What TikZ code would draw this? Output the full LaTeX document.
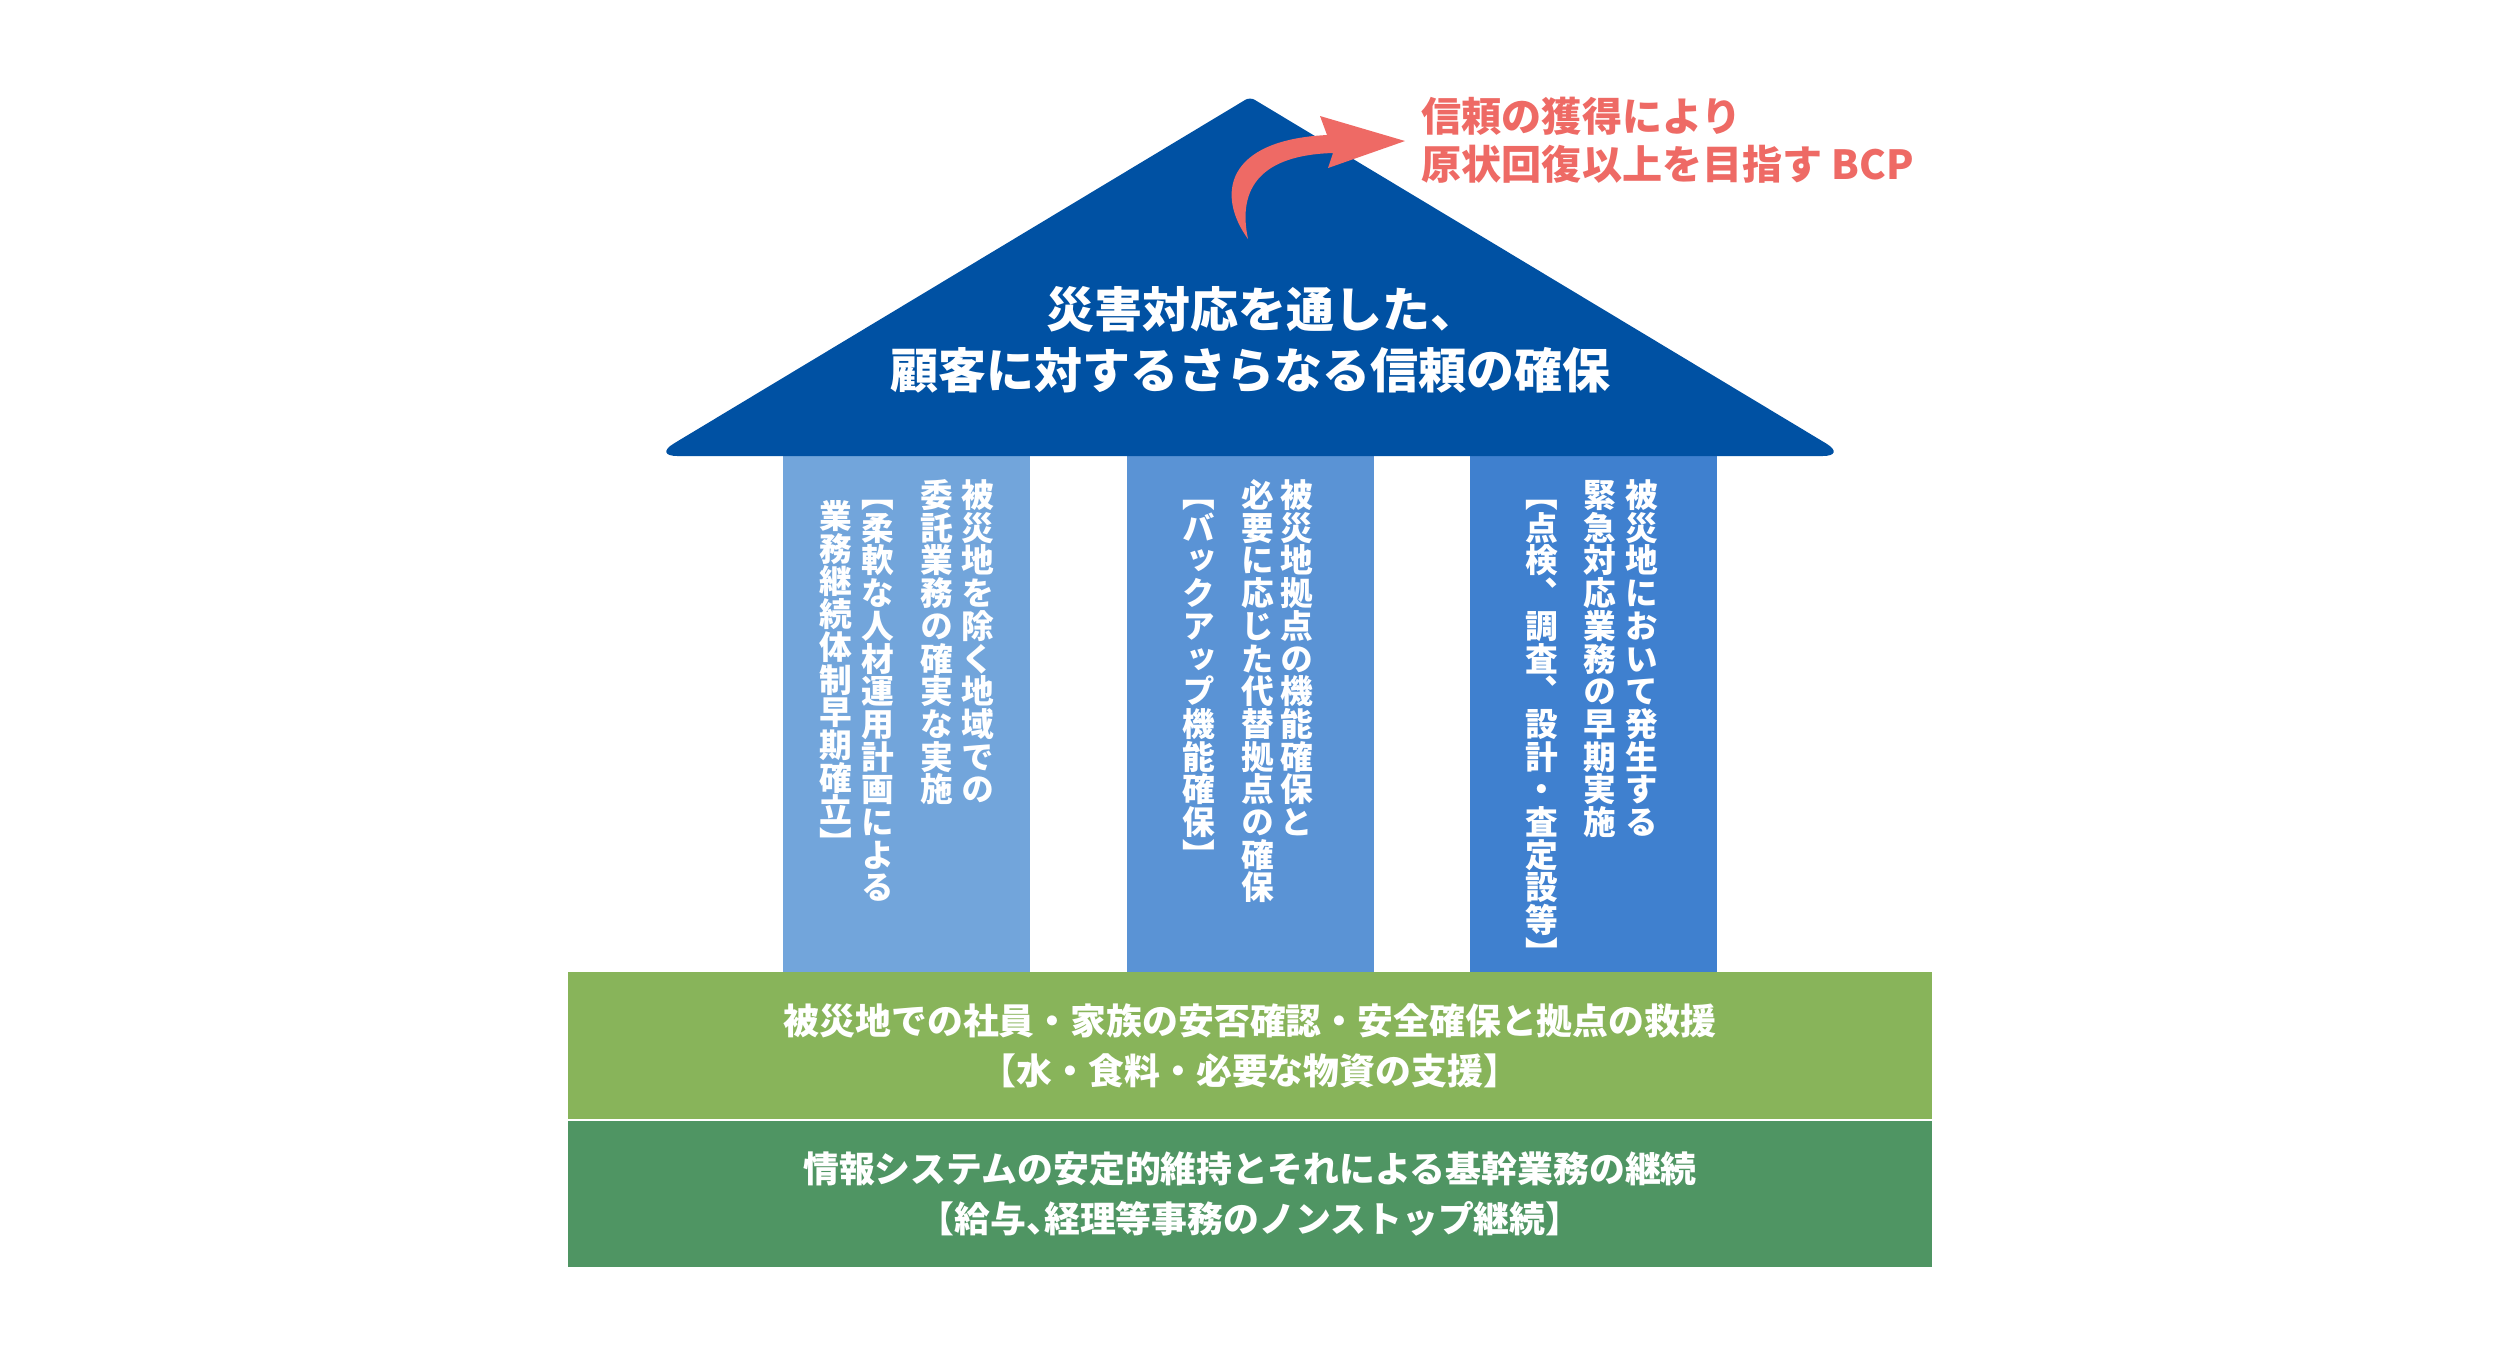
\documentclass[tikz,border=0pt]{standalone}
\usepackage{fontspec}
\setmainfont{Noto Sans CJK JP}
\newfontfamily\tatefont{Noto Sans CJK JP}[RawFeature=+vert]

\definecolor{roofblue}{HTML}{0051A3}
\definecolor{pillarA}{HTML}{72A5DB}
\definecolor{pillarB}{HTML}{5A93D5}
\definecolor{pillarC}{HTML}{3F80CF}
\definecolor{bandA}{HTML}{88B45A}
\definecolor{bandB}{HTML}{4F9563}
\definecolor{trustred}{HTML}{EE6A65}

% vertical text: one character per em box
\newcommand\tate[1]{\vbox{\offinterlineskip\tatenext#1\relax}}
\def\tatenext#1{\ifx\relax#1\else\hbox to 1em{\hss\vrule height .88em depth .12em width 0pt\relax#1\hss}\expandafter\tatenext\fi}
% half-width brackets and comma
\newcommand\lkak{\makebox[.5em][r]{【}}
\newcommand\rkak{\makebox[.5em][l]{】}}
\newcommand\hten{\makebox[.5em][l]{、}}

\begin{document}
\begin{tikzpicture}[
    x=0.01cm, y=-0.01cm,
    pillar/.style={rectangle, inner sep=0pt, minimum width=2.47cm, minimum height=5.16cm},
    band/.style={rectangle, inner sep=0pt, minimum width=13.64cm, align=center,
                 text=white, font=\bfseries\fontsize{10.2}{14.2}\selectfont},
    tatelbl/.style={inner sep=0pt, anchor=north, text=white,
                    font=\tatefont\bfseries\fontsize{9.3}{9.3}\selectfont},
    rooflbl/.style={align=center, text=white, font=\bfseries\fontsize{13.65}{17.4}\selectfont},
  ]
  \useasboundingbox (0,0) rectangle (2498,1359);

  % Pillars
  \node[pillar, fill=pillarA] (p1) at (906.5, 714) {};
  \node[pillar, fill=pillarB] (p2) at (1250.5, 714) {};
  \node[pillar, fill=pillarC] (p3) at (1593.5, 714) {};

  % Foundation bands
  \node[band, fill=bandA, minimum height=1.47cm] (safety) at (1250, 1045.5)
    {被災地での社員・家族の安否確認・安全確保と拠点の救援\\\lkak 水・食料・必要な物資の支援\rkak};
  \node[band, fill=bandB, minimum height=1.46cm] (system) at (1250, 1194)
    {情報システムの安定的維持とそれによる基幹業務の継続\\\lkak 給与\hten 経理等事務のノンストップ継続\rkak};

  % Roof
  \fill[roofblue] (1250,97) [rounded corners=7pt] -- (653,456) -- (1847,456)
    [rounded corners=1.5pt] -- cycle;
  \node[rooflbl] (trust) at (1250, 339.5)
    {災害対応を通した\hten\\顧客に対するさらなる信頼の確保};

  % Curved arrow and goal
  \fill[trustred] (1248,239) .. controls (1216,195) and (1225,140) .. (1327,135)
    -- (1320,116) -- (1405,141) -- (1328,168) -- (1333,153)
    .. controls (1262,155) and (1237,187) .. (1248,239) -- cycle;
  \node[anchor=west, align=left, text=trustred, inner sep=0pt,
        font=\bfseries\fontsize{11.4}{13.65}\selectfont] (goal) at (1421, 140)
    {信頼の獲得により\\原状回復以上を目指す BCP};

  % Pillar 1
  \node[tatelbl] (p1a) at (978, 478) {\tate{被災地を除く地域での}};
  \node[tatelbl] (p1b) at (937, 478) {\tate{委託業務の確実な実施}};
  \node[tatelbl] (p1c) at (878, 478) {\tate{【柔軟な人材運用計画による}};
  \node[tatelbl] (p1d) at (836, 499) {\tate{業務継続体制早期確立】}};

  % Pillar 2
  \node[tatelbl] (p2a) at (1297, 478) {\tate{被災地拠点の機能確保と}};
  \node[tatelbl] (p2b) at (1258, 478) {\tate{必要に応じた代替拠点の確保}};
  \node[tatelbl] (p2c) at (1199, 478) {\tate{【バックアップ機能確保】}};

  % Pillar 3
  \node[tatelbl] (p3a) at (1642, 478) {\tate{被災地において発生する}};
  \node[tatelbl] (p3b) at (1600, 478) {\tate{緊急対応業務の早期実施}};
  \node[tatelbl] (p3c) at (1542, 478) {\tate{【点検、調査、設計・査定設等】}};

\end{tikzpicture}
\end{document}
